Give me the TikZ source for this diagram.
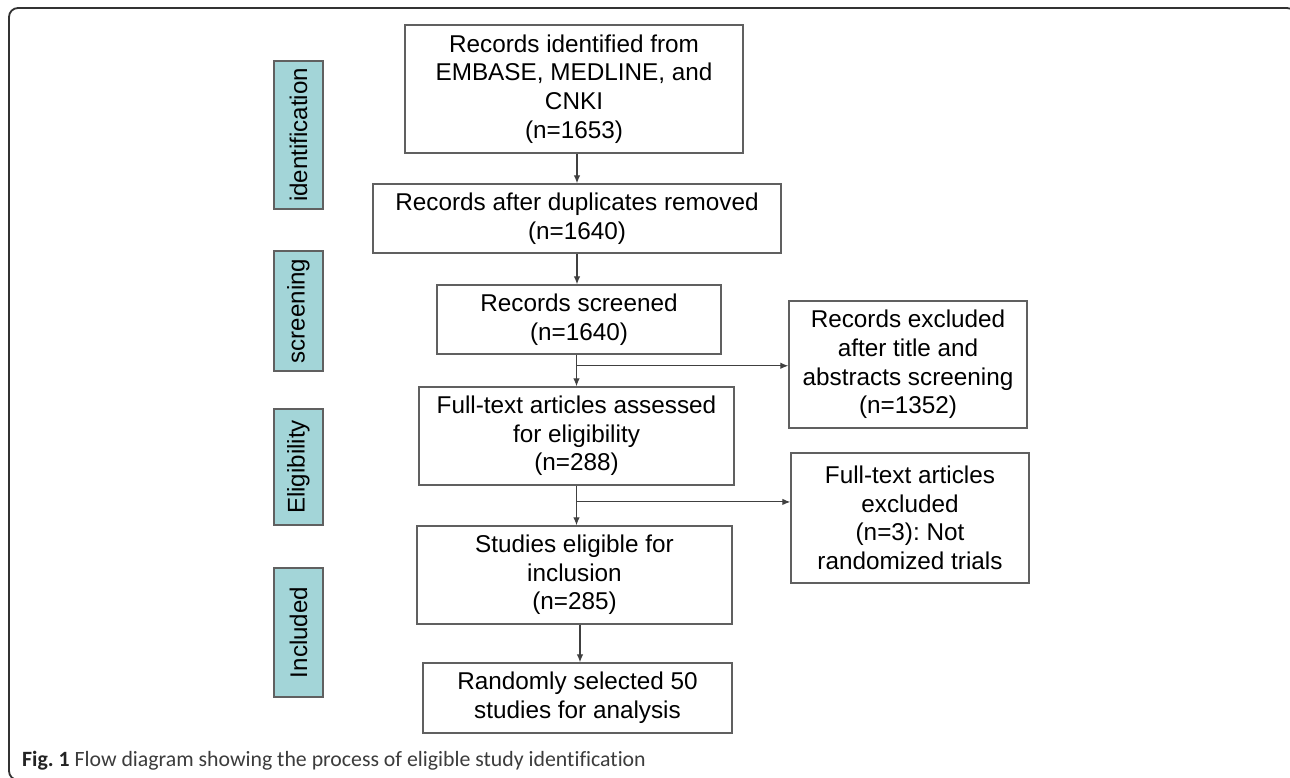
\documentclass[tikz,border=0pt]{standalone}
\usepackage{fontspec}
\setmainfont{Liberation Sans}
\newfontfamily\capfont[Ligatures=NoCommon]{Carlito}
\usetikzlibrary{arrows.meta,positioning,calc}
\definecolor{labfill}{RGB}{163,213,216}
\definecolor{boxline}{RGB}{96,96,96}
\definecolor{arrline}{RGB}{64,64,64}
\definecolor{frameline}{RGB}{50,50,50}
\definecolor{captext}{RGB}{60,60,60}
\definecolor{capbold}{RGB}{35,35,35}
\frenchspacing
\tikzset{
  x=1pt,y=-1pt,
  flowbox/.style={draw=boxline,line width=1.4pt,fill=white,inner sep=0pt,align=center,
    font=\fontsize{24.3}{28.6}\selectfont},
  stagebox/.style={draw=boxline,line width=1.2pt,fill=labfill,inner sep=0pt,
    minimum height=49pt,rotate=90,font=\fontsize{24.1}{28}\selectfont},
  arr/.style={draw=arrline,line width=1.1pt,-{Latex[length=8pt,width=6.5pt]}},
}
\begin{document}
\begin{tikzpicture}
\useasboundingbox (0,0) rectangle (1290,778);
\fill[white] (0,0) rectangle (1290,778);
% frame
\draw[frameline,line width=1.8pt,rounded corners=9pt] (9,8) rectangle (1296,780);

% stage labels
\node[stagebox,minimum width=148pt] (sid) at (298.5,135) {identification};
\node[stagebox,minimum width=120pt] (ssc) at (298.5,311) {screening};
\node[stagebox,minimum width=116pt] (sel) at (298.5,467) {Eligibility};
\node[stagebox,minimum width=129pt] (sin) at (298.5,632.5) {Included};

% flow boxes
\node[flowbox,minimum width=338pt,minimum height=128pt] (top) at (574,89)
  {Records identified from\\EMBASE, MEDLINE, and\\CNKI\\(n=1653)};
\node[flowbox,minimum width=408pt,minimum height=69pt] (dup) at (577,218.5)
  {Records after duplicates removed\\(n=1640)};
\node[flowbox,minimum width=284pt,minimum height=69pt] (scr) at (579,319.5)
  {Records screened\\(n=1640)};
\node[flowbox,minimum width=315pt,minimum height=98pt] (elig) at (576.5,436)
  {Full-text articles assessed\\for eligibility\\(n=288)};
\node[flowbox,minimum width=315pt,minimum height=98pt] (stud) at (574.5,575)
  {Studies eligible for\\inclusion\\(n=285)};
\node[flowbox,minimum width=309pt,minimum height=70pt] (rand) at (577.5,698)
  {Randomly selected 50\\studies for analysis};
\node[flowbox,minimum width=238pt,minimum height=127pt] (exa) at (908,364.5)
  {Records excluded\\after title and\\abstracts screening\\(n=1352)};
\node[flowbox,minimum width=238pt,minimum height=130pt] (exb) at (910,518)
  {Full-text articles\\excluded\\(n=3): Not\\randomized trials};

% connectors
\draw[arr] (top.south -| dup.north) -- (dup.north);
\draw[arr] (dup.south) -- (dup.south |- scr.north);
\draw[arr] (elig.north |- scr.south) -- (elig.north);
\coordinate (ba) at ($(elig.north |- scr.south)!0.35!(elig.north)$);
\draw[arr] (ba) -- (ba -| exa.west);
\draw[arr] (elig.south) -- (elig.south |- stud.north);
\coordinate (bb) at ($(elig.south)!0.41!(elig.south |- stud.north)$);
\draw[arr] (bb) -- (bb -| exb.west);
\coordinate (sa) at ([xshift=5.5pt]stud.south);
\draw[arr] (sa) -- (sa |- rand.north);

% caption
\node[anchor=base west,inner sep=0pt,text=captext,font=\capfont\fontsize{21.8}{24}\selectfont] (cap) at (22,766)
  {\textcolor{capbold}{\textbf{Fig. 1}} Flow diagram showing the process of eligible study identification};
\end{tikzpicture}
\end{document}
